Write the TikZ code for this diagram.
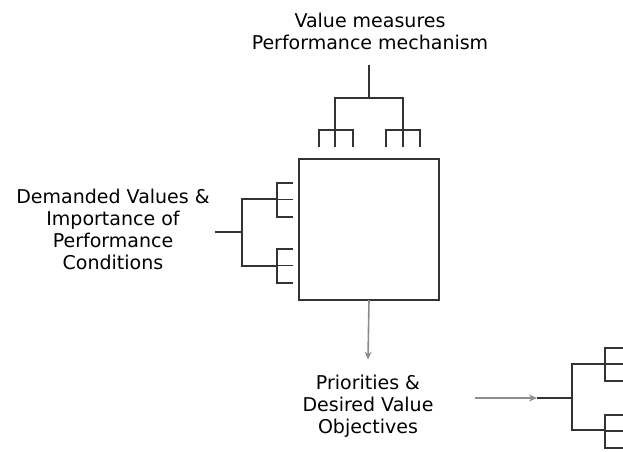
\documentclass[tikz,border=0pt]{standalone}
\usepackage{fontspec}
\setmainfont{DejaVu Sans}
\usetikzlibrary{arrows.meta}

\begin{document}
\begin{tikzpicture}[x=1pt, y=-1pt,
  tree/.style = {draw=black!80, line width=1.9pt},
  txt/.style = {align=center, inner sep=0pt, font=\fontsize{19}{22}\selectfont},
  flow/.style = {draw=black!45, line width=1.6pt, -{Stealth[length=8pt, width=7pt]}}]
	\useasboundingbox (0,0) rectangle (623,451);
	% labels
	\node[txt] (vm) at (370,31) {Value measures\\Performance mechanism};
	\node[txt] (dv) at (113,229) {Demanded Values \&\\Importance of\\Performance\\Conditions};
	\node[txt] (pr) at (368,406) {Priorities \&\\Desired Value\\Objectives};
	% matrix box
	\node[tree, inner sep=0pt, outer sep=0pt, minimum width=140pt, minimum height=141pt] (box) at (369,229.5) {};
	% top tree
	\coordinate (vt) at (369,65);
	\draw[tree] (vt) -- (369,98);
	\draw[tree] (335,147) -- (335,98) -- (403,98) -- (403,147);
	\foreach \x in {319,386} {
		\draw[tree] (\x,147) -- (\x,130) -- (\x+34,130) -- (\x+34,147);
	}
	% left tree
	\coordinate (lt) at (215,232);
	\draw[tree] (lt) -- (242,232);
	\draw[tree] (277,199) -- (242,199) -- (242,266) -- (277,266);
	\foreach \y in {183,249} {
		\draw[tree] (293,\y) -- (277,\y) -- (277,\y+34) -- (293,\y+34);
		\draw[tree] (277,\y+16.5) -- (293,\y+16.5);
	}
	% output arrow
	\draw[flow] (box.south) -- ([yshift=15pt]pr.north);
	% right tree
	\coordinate (ra) at (475,398);
	\coordinate (rb) at (537,398);
	\draw[flow] (ra) -- (rb);
	\draw[tree] (rb) -- (572,398);
	\draw[tree] (605,364) -- (572,364) -- (572,430) -- (605,430);
	\foreach \y in {348,415} {
		\draw[tree] (623,\y) -- (605,\y) -- (605,\y+33) -- (623,\y+33);
		\draw[tree] (605,\y+16) -- (623,\y+16);
	}
\end{tikzpicture}
\end{document}
